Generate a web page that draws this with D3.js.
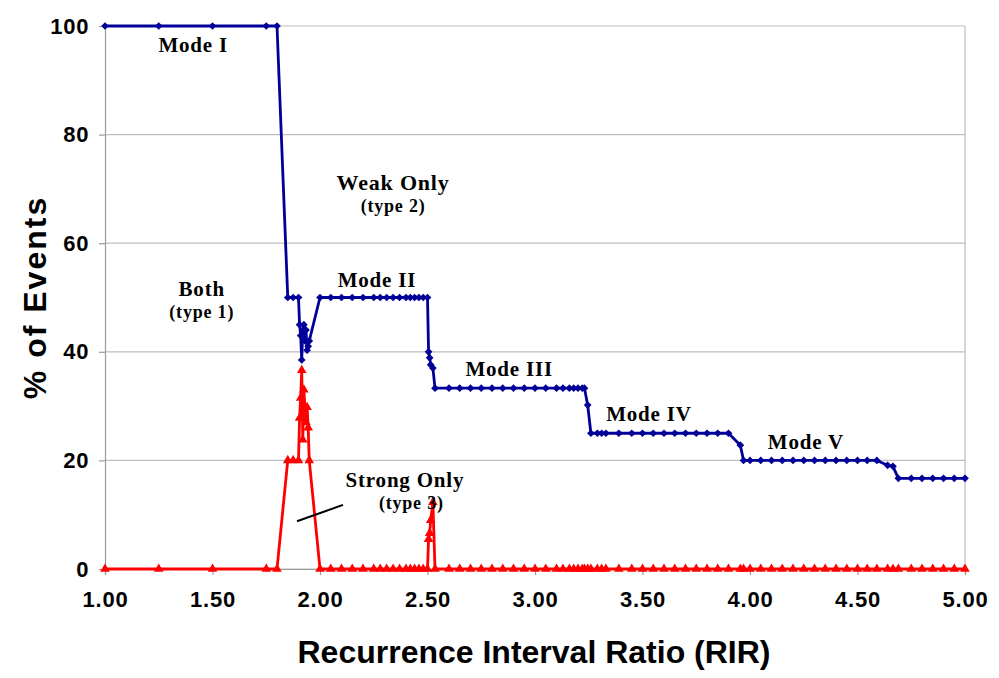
<!DOCTYPE html>
<html>
<head>
<meta charset="utf-8">
<script src="https://cdn.jsdelivr.net/npm/d3@7"></script>
<style>
  body { margin: 0; background: #fff; }
  svg { display: block; }
</style>
</head>
<body>
<svg id="chart" width="999" height="678"></svg>
<script>
// sampled recurrence interval ratios (shared by both series)
const rir = [1.00, 1.25, 1.50, 1.75, 1.80, 1.85, 1.875, 1.90, 1.905, 1.91, 1.915, 1.92, 1.925, 1.93, 1.935, 1.94, 1.945, 1.95,
  2.00, 2.05, 2.10, 2.15, 2.20, 2.25, 2.28, 2.31, 2.34, 2.37, 2.40, 2.42, 2.44, 2.46, 2.48, 2.50,
  2.505, 2.51, 2.515, 2.525, 2.535,
  2.60, 2.65, 2.70, 2.75, 2.80, 2.85, 2.90, 2.95, 3.00, 3.05, 3.10, 3.13, 3.16, 3.18, 3.20, 3.22, 3.23,
  3.245, 3.26, 3.29, 3.31, 3.33, 3.39, 3.45, 3.50, 3.55, 3.60, 3.65, 3.70, 3.75, 3.80, 3.85, 3.90,
  3.955, 3.97, 4.00, 4.05, 4.10, 4.15, 4.20, 4.25, 4.30, 4.35, 4.40, 4.45, 4.50, 4.545, 4.59,
  4.64, 4.665, 4.69, 4.75, 4.80, 4.85, 4.90, 4.95, 5.00]

// blue series: % of events (modes)
const modePct = [100, 100, 100, 100, 100, 50, 50, 50, 45, 43, 38.5, 44, 45, 42, 44, 40.3, 41, 42,
  50, 50, 50, 50, 50, 50, 50, 50, 50, 50, 50, 50, 50, 50, 50, 50,
  40, 38.9, 37.6, 37, 33.3,
  33.3, 33.3, 33.3, 33.3, 33.3, 33.3, 33.3, 33.3, 33.3, 33.3, 33.3, 33.3, 33.3, 33.3, 33.3, 33.3, 33.3,
  30.2, 25, 25, 25, 25, 25, 25, 25, 25, 25, 25, 25, 25, 25, 25, 25,
  22.8, 20, 20, 20, 20, 20, 20, 20, 20, 20, 20, 20, 20, 20, 20,
  19.1, 18.9, 16.7, 16.7, 16.7, 16.7, 16.7, 16.7, 16.7]

// red series: strong only (type 3)
const strongPct = [0, 0, 0, 0, 0, 20, 20, 20, 27.8, 31.5, 36.6, 23.8, 33, 29.8, 27, 29.8, 26, 20,
  0, 0, 0, 0, 0, 0, 0, 0, 0, 0, 0, 0, 0, 0, 0, 0,
  5.5, 6.6, 9, 12.3, 0,
  0, 0, 0, 0, 0, 0, 0, 0, 0, 0, 0, 0, 0, 0, 0, 0, 0,
  0, 0, 0, 0, 0, 0, 0, 0, 0, 0, 0, 0, 0, 0, 0, 0,
  0, 0, 0, 0, 0, 0, 0, 0, 0, 0, 0, 0, 0, 0, 0,
  0, 0, 0, 0, 0, 0, 0, 0, 0]

const xTicks = [1.0, 1.5, 2.0, 2.5, 3.0, 3.5, 4.0, 4.5, 5.0]
const yTicks = [0, 20, 40, 60, 80, 100]

const noteText = ["Mode I", "Weak Only", "(type 2)", "Both", "(type 1)", "Mode II",
  "Mode III", "Mode IV", "Mode V", "Strong Only", "(type 3)"]
const noteX = [1.41, 2.34, 2.34, 1.45, 1.45, 2.265, 2.88, 3.53, 4.26, 2.395, 2.425]
const noteY = [96.5, 71.3, 66.9, 51.6, 47.3, 53.3, 36.9, 28.6, 23.5, 16.5, 12.2]
const noteSize = [21, 22, 18, 21, 18, 21, 21, 21, 21, 21, 18]

const width = 999, height = 678
const margin = ({top: 26, right: 34, bottom: 109, left: 105})

const x = d3.scaleLinear()
  .domain([1, 5])
  .range([margin.left, width - margin.right])

const y = d3.scaleLinear()
  .domain([0, 100])
  .range([height - margin.bottom, margin.top])

const svg = d3.select("#chart")
  .attr("viewBox", [0, 0, width, height])

// gridlines
svg.append("g")
  .attr("stroke", "#bdbdbd")
  .attr("stroke-width", 1.2)
  .selectAll("line")
  .data(yTicks)
  .join("line")
  .attr("x1", x(1))
  .attr("x2", x(5))
  .attr("y1", d => y(d))
  .attr("y2", d => y(d))

// right edge of plot area
svg.append("line")
  .attr("x1", x(5)).attr("x2", x(5))
  .attr("y1", y(100)).attr("y2", y(0))
  .attr("stroke", "#bdbdbd")
  .attr("stroke-width", 1.2)

const xAxis = g => g
  .attr("transform", `translate(0,${y(0)})`)
  .call(d3.axisBottom(x).tickValues(xTicks).tickFormat(d3.format(".2f")).tickSizeOuter(0).tickSize(6))
  .call(g => g.selectAll("line, path").attr("stroke", "#9a9a9a").attr("stroke-width", 1.2))
  .call(g => g.selectAll("text").attr("dy", "1.3em"))
  .attr("font-size", 22)
  .attr("font-weight", "bold")
  .attr("letter-spacing", 0.8)
  .attr("font-family", "Liberation Sans, Arial, sans-serif")

const yAxis = g => g
  .attr("transform", `translate(${x(1)},0)`)
  .call(d3.axisLeft(y).tickValues(yTicks).tickSizeOuter(0).tickSize(6))
  .call(g => g.selectAll("line, path").attr("stroke", "#9a9a9a").attr("stroke-width", 1.2))
  .call(g => g.selectAll("text").attr("dx", "-0.3em"))
  .attr("font-size", 22)
  .attr("font-weight", "bold")
  .attr("letter-spacing", 0.8)
  .attr("font-family", "Liberation Sans, Arial, sans-serif")

svg.append("g").call(xAxis)
svg.append("g").call(yAxis)
svg.selectAll(".tick text").attr("fill", "#000")

// axis titles
svg.append("text")
  .attr("x", (x(1) + x(5)) / 2 - 1)
  .attr("y", 663)
  .attr("text-anchor", "middle")
  .attr("font-family", "Liberation Sans, Arial, sans-serif")
  .attr("font-weight", "bold")
  .attr("font-size", 32)
  .text("Recurrence Interval Ratio (RIR)")

svg.append("text")
  .attr("transform", `translate(46,${(y(0) + y(100)) / 2}) rotate(-90)`)
  .attr("text-anchor", "middle")
  .attr("font-family", "Liberation Sans, Arial, sans-serif")
  .attr("font-weight", "bold")
  .attr("font-size", 32)
  .attr("letter-spacing", 2)
  .text("% of Events")

const line = d3.line()
  .x(d => x(d[0]))
  .y(d => y(d[1]))

const blueData = rir.map((r, i) => [r, modePct[i]])
const redData = rir.map((r, i) => [r, strongPct[i]])

// red series (drawn first, blue on top)
svg.append("path")
  .datum(redData)
  .attr("fill", "none")
  .attr("stroke", "#ff0000")
  .attr("stroke-width", 2.8)
  .attr("stroke-linejoin", "round")
  .attr("d", line)

svg.append("g")
  .attr("fill", "#ff0000")
  .selectAll("path")
  .data(redData)
  .join("path")
  .attr("transform", d => `translate(${x(d[0])},${y(d[1])})`)
  .attr("d", d3.symbol(d3.symbolTriangle, 40))

svg.append("path")
  .datum(blueData)
  .attr("fill", "none")
  .attr("stroke", "#000099")
  .attr("stroke-width", 2.8)
  .attr("stroke-linejoin", "round")
  .attr("d", line)

svg.append("g")
  .attr("fill", "#000099")
  .selectAll("path")
  .data(blueData)
  .join("path")
  .attr("transform", d => `translate(${x(d[0])},${y(d[1])}) rotate(45)`)
  .attr("d", d3.symbol(d3.symbolSquare, 30))

// leader line for Strong Only
svg.append("line")
  .attr("x1", x(1.893)).attr("y1", y(8.8))
  .attr("x2", x(2.107)).attr("y2", y(11.8))
  .attr("stroke", "#000")
  .attr("stroke-width", 2)

// annotations
svg.append("g")
  .attr("font-family", "Liberation Serif, Times New Roman, serif")
  .attr("font-weight", "bold")
  .attr("text-anchor", "middle")
  .attr("letter-spacing", 0.8)
  .selectAll("text")
  .data(noteText)
  .join("text")
  .attr("x", (d, i) => x(noteX[i]))
  .attr("y", (d, i) => y(noteY[i]))
  .attr("dy", "0.35em")
  .attr("font-size", (d, i) => noteSize[i])
  .text(d => d)
</script>
</body>
</html>
